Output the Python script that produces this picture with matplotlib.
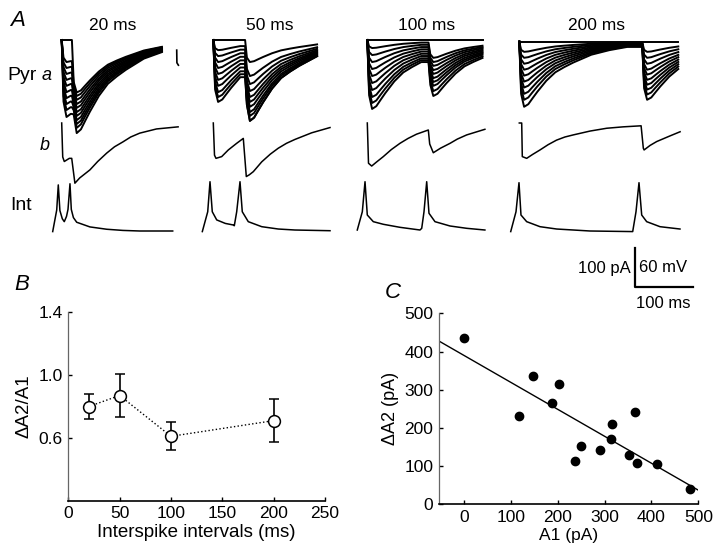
import numpy as np
import matplotlib
matplotlib.use("Agg")
import matplotlib.pyplot as plt

plt.rcParams['font.family'] = ['Liberation Sans', 'DejaVu Sans']
plt.rcParams['font.size'] = 12.5

W, H = 720, 555

# ---------------- data ----------------
INTERVALS = ["20 ms", "50 ms", "100 ms", "200 ms"]

TEMPLATE_T = [0, 3, 8, 15, 22, 30, 45, 60, 75, 90, 105, 120, 150, 180, 210, 250, 300]
TEMPLATE_F = [0, 0.8, 1.0, 0.96, 0.87, 0.77, 0.6, 0.47, 0.39, 0.32, 0.26, 0.2, 0.13, 0.08, 0.05, 0.03, 0.015]

# Pyr a: individual sweeps, first peak (A1) and total second peak (pA)
A1_SWEEPS = [
    [0, 63, 80, 97, 114, 131, 149, 166, 183, 200, 220],
    [0, 29, 46, 63, 80, 97, 114, 131, 149, 163, 177],
    [0, 23, 43, 63, 83, 103, 123, 143, 163, 180, 197],
    [0, 29, 46, 63, 80, 97, 114, 131, 149, 166, 186],
]
D2_SWEEPS = [
    [150, 160, 171, 183, 194, 206, 217, 229, 240, 251, 266],
    [63, 103, 126, 146, 163, 177, 191, 206, 217, 231, 231],
    [0, 51, 63, 74, 86, 97, 109, 120, 131, 146, 160],
    [0, 29, 46, 63, 80, 94, 109, 123, 137, 151, 166],
]
STIM2_MS = [17, 53, 102, 205]
SWEEP_END_MS = [194, 195, 196, 268]
ARTIFACT_T = [191.7, 192, 194.5]
ARTIFACT_I = [-29, -65, -72]

# Pyr b traces (ms, pA)
B_T = [
    [0, 1.7, 4.3, 12.7, 16.7, 22, 30, 47, 60, 75, 88, 102, 115, 130, 158, 194],
    [0, 2, 4.5, 14, 25, 39, 50, 55, 60, 66.7, 80.7, 95, 108.3, 122, 136, 164, 194.5],
    [0, 2, 7.3, 15, 26.7, 40, 54.5, 68, 82, 101.7, 104, 110, 122, 138, 150, 165.7, 196],
    [0, 4, 5, 12.3, 22, 34.5, 48, 62, 76, 90, 118, 145.7, 173, 203, 206.7, 208, 218, 229, 251, 268],
]
B_I = [
    [0, -97, -110, -101, -101, -172, -157, -134, -110, -86, -68, -54, -40, -29, -17, -11],
    [0, -92, -101, -96, -77, -58, -44, -153, -148, -139, -111, -89, -72, -58, -47, -28, -13],
    [0, -115, -123, -112, -96, -76, -58, -44, -32, -20, -60, -85, -72, -58, -46, -34, -18],
    [0, 0, -96, -101, -90, -77, -62, -49, -40, -34, -23, -15, -11, -8, -72, -77, -64, -53, -37, -25],
]

# Interneuron membrane potential (ms, mV)
INT_T = [
    [-15, -8.3, -5.7, -3, 1, 4.3, 8, 10.5, 13.8, 16, 19.5, 25, 47, 75, 102, 130, 185],
    [-18.3, -9.3, -5.5, -1.7, 5.7, 20, 33.3, 35, 39, 44.5, 48.3, 58.3, 80.7, 108.3, 136, 194.5],
    [-16.7, -8.3, -3.8, 0, 10, 26.7, 54.5, 87.8, 90.7, 94.5, 99, 102.8, 112.8, 137.8, 165.7, 196],
    [-14.3, -5.5, -0.5, 2.8, 12.3, 34.5, 62.3, 117.8, 189, 194.5, 199.5, 204, 212.3, 234.5, 267.8],
]
INT_V = [
    [-66, -29, 14, -30, -44, -49, -40, -28, 16, -28, -42, -50, -58, -62, -64, -65, -65],
    [-66, -32, 19.5, -32, -46, -52, -54.7, -56, -32, 19.5, -32, -49, -57.6, -61.6, -63.3, -64.5],
    [-63.3, -32, 19.5, -37.6, -49, -53.5, -58.7, -63.3, -60.4, -32, 19.5, -34.6, -49, -56.4, -60.4, -63.3],
    [-66, -32, 17.8, -37.6, -49, -57.6, -61.6, -65, -66, -32, 17.8, -37.6, -49, -57.6, -61.6],
]

# panel B
isi_ms = [20, 50, 100, 200]
ratio = [0.80, 0.87, 0.61, 0.71]
ratio_err = [0.08, 0.14, 0.09, 0.135]

# panel C
a1_pa = [1, 148, 203, 117, 187, 237, 249, 290, 313, 317, 365, 353, 370, 411, 482]
da2_pa = [435, 336, 315, 232, 264, 114, 153, 142, 170, 210, 242, 129, 109, 105, 39]

# ---------------- layout helpers ----------------
PX_MS = 0.6
PX_PA = 0.35
PX_MV = 35 / 60
STIM_X = [61.7, 213.3, 367.3, 519.3]
A_BASE = [40, 40, 40, 41.7]
B_BASE = 123
INT_BASE = 231

fig = plt.figure(figsize=(W / 100, H / 100), dpi=100)


def add_px_axes(left, top, width, height):
    return fig.add_axes([left / W, 1 - (top + height) / H, width / W, height / H])


def px_text(x, y, s, **kw):
    fig.text(x / W, 1 - y / H, s, **kw)


def sweep(a1, d2, t2, t_end):
    t, y = [], []
    for tt, f in zip(TEMPLATE_T, TEMPLATE_F):
        if tt < t2:
            t.append(tt)
            y.append(-a1 * f)
    t.append(t2)
    y.append(y[-1])
    for tt, f in zip(TEMPLATE_T[1:], TEMPLATE_F[1:]):
        if t2 + tt > t_end:
            break
        t.append(t2 + tt)
        y.append(-d2 * f)
    return t, y


# ---------------- panel A ----------------
for i in range(4):
    sx = STIM_X[i]
    ax_a = add_px_axes(sx - 20 * PX_MS, A_BASE[i] - 20 * PX_PA, 320 * PX_MS, 320 * PX_PA)
    for a1, d2 in zip(A1_SWEEPS[i], D2_SWEEPS[i]):
        t, y = sweep(a1, d2, STIM2_MS[i], SWEEP_END_MS[i])
        ax_a.plot(t, y, color='k', lw=1.4, clip_on=False)
    if i == 0:
        ax_a.plot(ARTIFACT_T, ARTIFACT_I, color='k', lw=1.2)
    ax_a.set_xlim(-20, 300)
    ax_a.set_ylim(-300, 20)
    ax_a.axis('off')

    ax_b = add_px_axes(sx - 20 * PX_MS, B_BASE - 20 * PX_PA, 320 * PX_MS, 320 * PX_PA)
    ax_b.plot(B_T[i], B_I[i], color='k', lw=1.1, clip_on=False)
    ax_b.set_xlim(-20, 300)
    ax_b.set_ylim(-300, 20)
    ax_b.axis('off')

    ax_i = add_px_axes(sx - 20 * PX_MS, INT_BASE - 95 * PX_MV, 320 * PX_MS, 110 * PX_MV)
    ax_i.plot(INT_T[i], INT_V[i], color='k', lw=1.1, clip_on=False)
    ax_i.set_xlim(-20, 300)
    ax_i.set_ylim(-80, 30)
    ax_i.axis('off')

label_x = [113, 270, 427, 597]
for x, s in zip(label_x, INTERVALS):
    px_text(x, 25, s, ha='center', va='center')

px_text(18, 21, "A", fontsize=16, style='italic', ha='center', va='center')
px_text(22, 75, "Pyr", fontsize=14, ha='center', va='center')
px_text(47, 76, "a", fontsize=13, style='italic', ha='center', va='center')
px_text(45, 146, "b", fontsize=13, style='italic', ha='center', va='center')
px_text(21, 205, "Int", fontsize=14, ha='center', va='center')

# scale bar
ax_s = add_px_axes(635, 248, 57.7, 38.7)
ax_s.plot([0, 0, 100], [100, 0, 0], color='k', lw=1.6, clip_on=False)
ax_s.set_xlim(0, 100)
ax_s.set_ylim(0, 100)
ax_s.axis('off')
px_text(631, 268, "100 pA", ha='right', va='center', fontsize=12)
px_text(639, 268, "60 mV", ha='left', va='center', fontsize=12)
px_text(663, 303, "100 ms", ha='center', va='center', fontsize=12)


def style_axes(ax):
    ax.spines['top'].set_visible(False)
    ax.spines['right'].set_visible(False)
    ax.spines['left'].set_color('0.4')
    ax.spines['left'].set_linewidth(0.9)
    ax.spines['bottom'].set_linewidth(1.2)
    ax.tick_params(direction='in', length=3, width=1, pad=4)


# ---------------- panel B ----------------
ax_b = add_px_axes(68.3, 312.3, 256.7, 188.4)
ax_b.plot(isi_ms, ratio, ':', color='k', lw=1.0, zorder=1)
ax_b.errorbar(isi_ms, ratio, yerr=ratio_err, fmt='o', ms=8.5, mfc='white', mec='k', mew=1.1,
              ecolor='k', elinewidth=1.2, capsize=3.5, capthick=1.2, zorder=2)
ax_b.set_xlim(0, 250)
ax_b.set_ylim(0.2, 1.4)
ax_b.set_xticks([0, 50, 100, 150, 200, 250])
ax_b.set_yticks([0.6, 1.0, 1.4])
ax_b.set_yticklabels(["0.6", "1.0", "1.4"])
style_axes(ax_b)
ax_b.set_xlabel("Interspike intervals (ms)", fontsize=13.5, labelpad=2)
ax_b.set_ylabel("ΔA2/A1", fontsize=13.5, labelpad=4)
px_text(22, 285, "B", fontsize=16, style='italic', ha='center', va='center')

# ---------------- panel C ----------------
ax_c = add_px_axes(439, 313.3, 259.3, 191)
ax_c.plot(a1_pa, da2_pa, 'o', color='k', ms=6)
fit = np.polyfit(a1_pa, da2_pa, 1)
poly = np.poly1d(fit)
x_fit = np.array([-53, 500])
ax_c.plot(x_fit, poly(x_fit), color='k', lw=1.0)
ax_c.set_xlim(-53, 500)
ax_c.set_ylim(0, 500)
ax_c.set_xticks([0, 100, 200, 300, 400, 500])
ax_c.set_yticks([0, 100, 200, 300, 400, 500])
style_axes(ax_c)
ax_c.set_xlabel("A1 (pA)", labelpad=2)
ax_c.set_ylabel("ΔA2 (pA)", fontsize=13, labelpad=4)
px_text(393, 293, "C", fontsize=16, style='italic', ha='center', va='center')

fig.savefig("out.png", dpi=100)
